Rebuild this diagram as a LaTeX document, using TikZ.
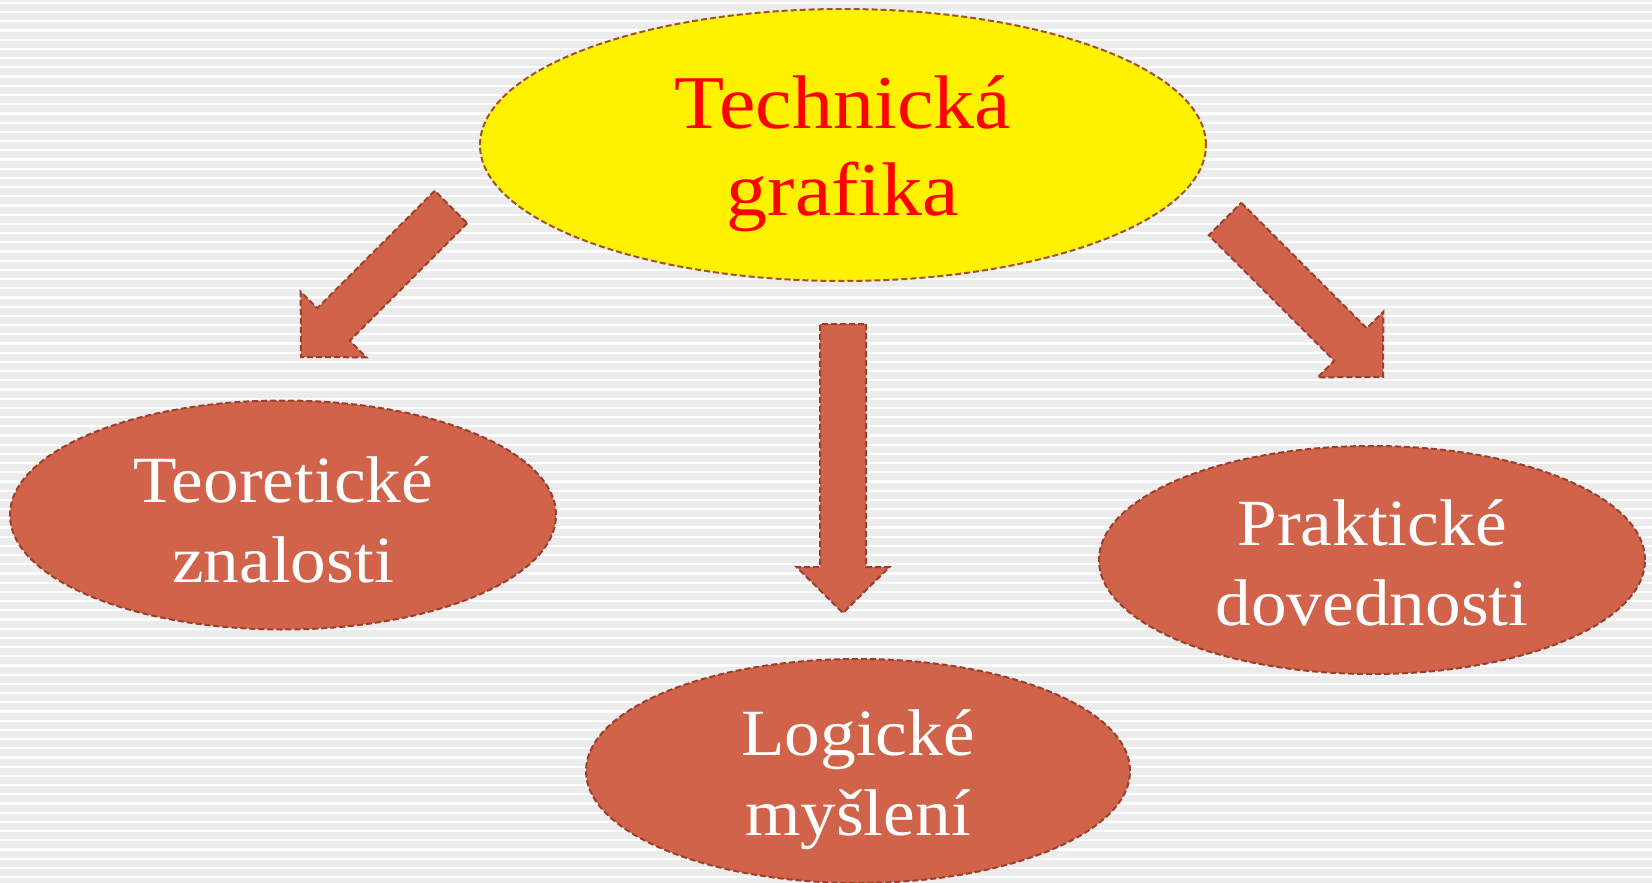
\documentclass[tikz,border=0pt]{standalone}
\usepackage{fontspec}
\setmainfont{Liberation Serif}[FakeStretch=1.08]
\usetikzlibrary{shapes.geometric,calc}
\definecolor{bggray}{HTML}{ECECEC}
\definecolor{brick}{HTML}{D1634A}
\definecolor{brickline}{HTML}{9A3F2C}
\definecolor{topline}{HTML}{A0522D}
\newcommand{\blockarrow}[3]{%
  \coordinate (#1h) at ($(#3)!46pt!(#2)$);
  \draw[arrowbody] ($(#2)!23pt!90:(#3)$) -- ($(#1h)!23pt!90:(#3)$) -- ($(#1h)!46.5pt!90:(#3)$) -- (#3)
     -- ($(#1h)!46.5pt!-90:(#3)$) -- ($(#1h)!23pt!-90:(#3)$) -- ($(#2)!23pt!-90:(#3)$) -- cycle;}
\tikzset{
  bubble/.style={ellipse, draw=brickline, fill=brick, line width=2pt, dash pattern=on 6pt off 3pt, inner sep=0pt},
  topbubble/.style={bubble, fill=yellow, draw=topline},
  bubbletext/.style={align=center, text=white, inner sep=0pt, font={\fontsize{66}{80}\selectfont}},
  toptext/.style={bubbletext, text=red, font={\fontsize{76}{87}\selectfont}},
  arrowbody/.style={fill=brick, draw=brickline, line width=2pt, dash pattern=on 6pt off 3pt, line join=miter},
}
\begin{document}
\begin{tikzpicture}[x=1pt,y=-1pt]
\useasboundingbox (0,0) rectangle (1652,883);
\fill[bggray] (0,0) rectangle (1652,883);
\foreach \i in {0,...,96} \draw[white, line width=2.2pt] (0,9.2*\i+3) -- (1652,9.2*\i+3);

\node[topbubble, minimum width=726pt, minimum height=272pt] (top) at (843,145) {};
\node[bubble, minimum width=546pt, minimum height=229pt] (teo) at (283,515) {};
\node[bubble, minimum width=544pt, minimum height=224pt] (log) at (858,771) {};
\node[bubble, minimum width=546pt, minimum height=228pt] (pra) at (1372,560) {};

\node[toptext] (toptxt) at ($(top.center)+(0,9)$) {Technická\\grafika};
\node[bubbletext] (teotxt) at ($(teo.center)+(0,5)$) {Teoretické\\znalosti};
\node[bubbletext] (logtxt) at ($(log.center)+(0,9)$) {Logické\\myšlení};
\node[bubbletext] (pratxt) at ($(pra.center)+(0,3)$) {Praktické\\dovednosti};

\coordinate (lt) at (451,207);  \coordinate (lp) at (301,357);
\coordinate (mt) at (843,324);  \coordinate (mp) at (843,613);
\coordinate (rt) at (1225,219); \coordinate (rp) at (1383,377);
\blockarrow{la}{lt}{lp}
\blockarrow{ma}{mt}{mp}
\blockarrow{ra}{rt}{rp}
\end{tikzpicture}
\end{document}
